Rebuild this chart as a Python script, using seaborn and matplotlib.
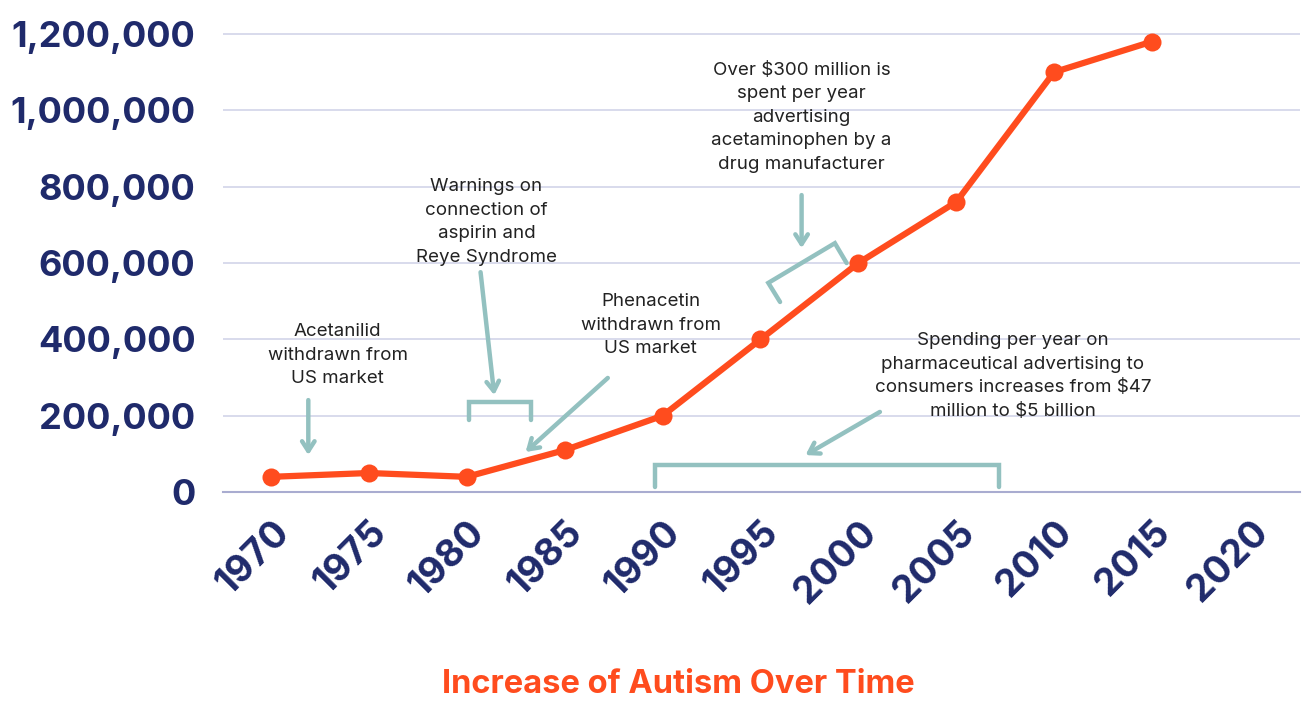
import matplotlib
matplotlib.use("Agg")
import matplotlib.pyplot as plt
import seaborn as sns
import pandas as pd

# ---- data ----
years = [1970, 1975, 1980, 1985, 1990, 1995, 2000, 2005, 2010, 2015]
cases = [40000, 50000, 40000, 110000, 200000, 400000, 600000, 760000, 1100000, 1180000]
xticks = [1970, 1975, 1980, 1985, 1990, 1995, 2000, 2005, 2010, 2015, 2020]
yticks = [0, 200000, 400000, 600000, 800000, 1000000, 1200000]
title = "Increase of Autism Over Time"

notes = [
    "Acetanilid\nwithdrawn from\nUS market",
    "Warnings on\nconnection of\naspirin and\nReye Syndrome",
    "Phenacetin\nwithdrawn from\nUS market",
    "Over $300 million is\nspent per year\nadvertising\nacetaminophen by a\ndrug manufacturer",
    "Spending per year on\npharmaceutical advertising to\nconsumers increases from $47\nmillion to $5 billion",
]
note_xy = [(1973.4, 359000), (1981.0, 707000), (1989.4, 437000), (1997.1, 982000), (2007.9, 304000)]
arrow_from = [(1971.9, 241000), (1980.7, 576000), (1987.2, 299000), (1997.1, 778000), (2001.1, 210000)]
arrow_to = [(1971.9, 97000), (1981.4, 254000), (1983.0, 105000), (1997.1, 639000), (1997.3, 97000)]
brackets = [
    ([1980.1, 1980.1, 1983.3, 1983.3], [189000, 236000, 236000, 189000]),
    ([1996.0, 1995.4, 1998.8, 1999.4], [498000, 548000, 652000, 600000]),
    ([1989.6, 1989.6, 2007.2, 2007.2], [13000, 71000, 71000, 13000]),
]

ORANGE = "#FF4C1E"
NAVY = "#1F2A6B"
TEAL = "#93C1C0"

sns.set_style("white")
plt.rcParams['font.family'] = ['Inter', 'DejaVu Sans']

df = pd.DataFrame({"year": years, "cases": cases})

fig = plt.figure(figsize=(13.05, 7.01), dpi=100)
ax = fig.add_axes([0.171, 0.298, 0.825, 0.659])

for y in yticks[1:]:
    ax.axhline(y, color="#D6D8EA", lw=1.3, zorder=0)

sns.lineplot(data=df, x="year", y="cases", ax=ax, color=ORANGE, lw=4.5,
             marker="o", markersize=13, markeredgewidth=0, zorder=5)

# annotations
for txt, xy in zip(notes, note_xy):
    ax.text(xy[0], xy[1], txt, ha="center", va="center", fontsize=13.5,
            color="#222222", linespacing=1.5, zorder=6)
for a, b in zip(arrow_from, arrow_to):
    ax.annotate("", xy=b, xytext=a,
                arrowprops=dict(arrowstyle="->,head_width=0.45,head_length=0.7",
                                color=TEAL, lw=3.2, shrinkA=0, shrinkB=0))
for bx, by in brackets:
    ax.plot(bx, by, color=TEAL, lw=3.2, solid_joinstyle="miter", zorder=4)

ax.set_xlim(1967.55, 2022.55)
ax.set_ylim(0, 1210000)
ax.set_xticks(xticks)
ax.set_yticks(yticks)
ax.set_yticklabels([f"{v:,}" for v in yticks])
ax.set_xlabel("")
ax.set_ylabel("")

for s in ["top", "right", "left"]:
    ax.spines[s].set_visible(False)
ax.spines["bottom"].set_color("#A9ACD0")
ax.spines["bottom"].set_linewidth(1.5)

ax.tick_params(axis="both", length=0, labelcolor=NAVY)
ax.tick_params(axis="y", pad=20, labelsize=26)
ax.tick_params(axis="x", pad=16, labelsize=27)
for lab in ax.get_yticklabels():
    lab.set_fontweight("bold")
for lab in ax.get_xticklabels():
    lab.set_fontweight("bold")
    lab.set_rotation(45)
    lab.set_ha("right")
    lab.set_rotation_mode("anchor")

fig.text(0.52, 0.023, title, ha="center", va="center", fontsize=23.5,
         fontweight="bold", color=ORANGE)

fig.savefig("out.png", dpi=100, facecolor="white")
